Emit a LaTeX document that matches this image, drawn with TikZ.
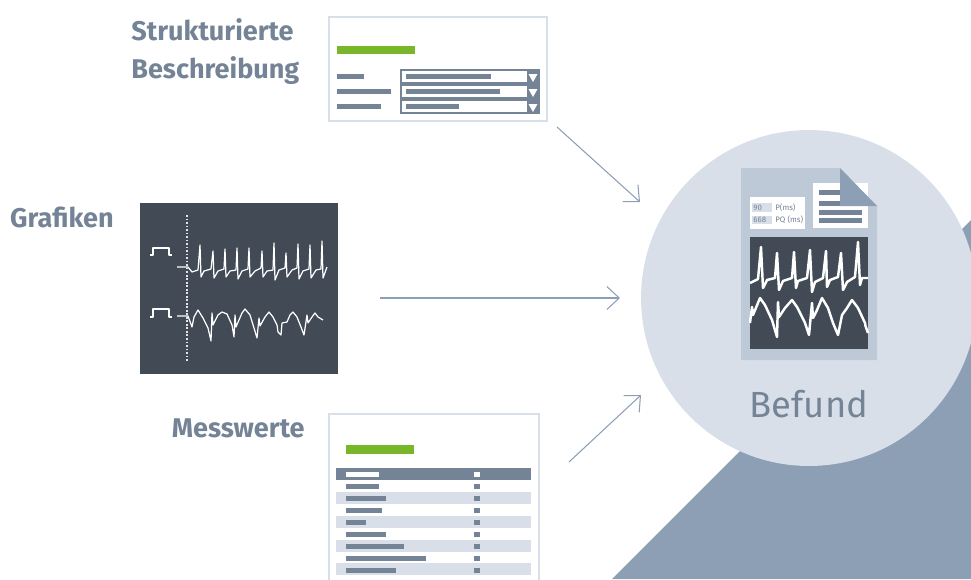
\documentclass[tikz,border=0pt]{standalone}
\usepackage{fontspec}
\setmainfont{Fira Sans}
\usetikzlibrary{arrows.meta}
\definecolor{slate}{HTML}{748496}
\definecolor{pale}{HTML}{D8DFE9}
\definecolor{mid}{HTML}{BDC9D6}
\definecolor{wedge}{HTML}{8C9FB5}
\definecolor{screen}{HTML}{414A55}
\definecolor{leaf}{HTML}{78B72A}
\tikzset{
  caption/.style={font=\fontsize{15.4}{21.5}\selectfont\bfseries,text=slate,align=left,inner sep=0pt},
  tiny/.style={font=\fontsize{4.5}{5}\selectfont,text=slate,inner sep=0pt,anchor=west},
  card/.style={draw=pale,fill=white,line width=1pt},
  link/.style={draw=wedge,line width=0.6pt,-{Straight Barb[length=7pt,width=13pt]}},
  bar/.style={fill=slate},
  trace/.style={draw=white,line width=0.7pt,line join=round}
}
\begin{document}
\begin{tikzpicture}[x=0.02cm,y=-0.02cm]
  \useasboundingbox (0,0) rectangle (971,579);
  \clip (0,0) rectangle (971,579);
  \fill[wedge] (612,579) -- (971,220) -- (971,579) -- cycle;
  \node[circle,fill=pale,minimum size=6.72cm,inner sep=0pt] (befund) at (809,298) {};
  \node[font=\fontsize{20.7}{25}\selectfont,text=slate,inner sep=0pt] (befundtext) at (809,404) {Befund};
  % captions
  \node[caption,anchor=west] (struktur) at (131,51.5) {Strukturierte\\Beschreibung};
  \node[caption,anchor=east] (grafiken) at (114,217) {Grafiken};
  \node[caption,anchor=east] (messwerte) at (305,428) {Messwerte};
  % form card
  \path[card] (329,17) rectangle (547,121);
  \fill[leaf] (337,46) rectangle (415,54);
  \fill[bar] (337,74) rectangle (364,79);
  \fill[bar] (337,89) rectangle (391,94);
  \fill[bar] (337,104) rectangle (381,109);
  \foreach \y/\w in {70/491,85/500,100/459}{
    \draw[slate,line width=0.6pt] (401,\y) rectangle (539,\y+13);
    \fill[bar] (406,\y+4) rectangle (\w,\y+9);
    \fill[bar] (527,\y) rectangle (539,\y+13);
    \fill[white] (528.5,\y+4) -- (537.5,\y+4) -- (533,\y+12) -- cycle;
  }
  % graph screen
  \fill[screen] (140,203) rectangle (338,374);
  \draw[white!85!screen,line width=0.6pt,dash pattern=on 1pt off 1pt] (187,215) -- (187,361);
  \draw[trace] (150,255) -- (153,255) -- (153,248) -- (169,248) -- (169,255) -- (172,255);
  \draw[trace] (150,317) -- (153,317) -- (153,309) -- (169,309) -- (169,317) -- (172,317);
  \draw[trace] (177,267) -- (188,267) -- (192,272) -- (198,270) -- (200,245) -- (201,277) -- (204,271) -- (211,269) -- (213,251) -- (214,278) -- (218,271) -- (224,269) -- (225,249) -- (226,277) -- (230,271) -- (236,270) -- (237,248) -- (238,279) -- (242,271) -- (248,269) -- (249,248) -- (250,277) -- (255,271) -- (261,268) -- (262,251) -- (263,277) -- (267,271) -- (273,270) -- (274,243) -- (275,280) -- (279,270) -- (285,268) -- (286,253) -- (287,277) -- (292,270) -- (297,268) -- (298,244) -- (299,279) -- (303,271) -- (309,269) -- (310,245) -- (311,278) -- (316,270) -- (321,269) -- (322,241) -- (323,278) -- (327,267);
  \draw[trace] (177,316) -- (188,316) -- (192,327) -- (194,317) -- (198,310) -- (203,318) -- (208,328) -- (211,341) -- (212,313) -- (213,325) -- (218,315) -- (222,312) -- (227,314) -- (232,325) -- (234,337) -- (235,315) -- (236,327) -- (242,313) -- (245,309) -- (250,315) -- (254,328) -- (257,338) -- (259,318) -- (260,326) -- (265,317) -- (269,312) -- (273,317) -- (277,325) -- (278,332) -- (281,335) -- (282,323) -- (287,322) -- (290,315) -- (293,312) -- (297,317) -- (301,327) -- (304,335) -- (307,315) -- (308,323) -- (312,317) -- (315,313) -- (318,317) -- (323,320);
  % measurement card
  \path[card] (329,414) rectangle (539,590);
  \fill[leaf] (346,445) rectangle (414,454);
  \fill[bar] (336,468) rectangle (531,480);
  \foreach \y in {492,516,540,563}{ \fill[pale] (336,\y) rectangle (531,\y+12); }
  \fill[white] (346,472) rectangle (379,477);
  \fill[white] (474,472) rectangle (480,477);
  \foreach \y/\w in {484/379,496/386,508/382,520/366,532/386,544/404,556/426,568/396}{
    \fill[bar] (346,\y) rectangle (\w,\y+5);
    \fill[bar] (474,\y) rectangle (480,\y+5);
  }
  % document icon
  \fill[mid] (741,168) -- (840,168) -- (877,206) -- (877,360) -- (741,360) -- cycle;
  \fill[white] (750,197) rectangle (805,229);
  \fill[pale] (752,203) rectangle (772,212);
  \fill[pale] (752,216) rectangle (772,224);
  \node[tiny] (p90) at (753,207.5) {90};
  \node[tiny] (p668) at (753,220) {668};
  \node[tiny] (pms) at (775,207.5) {P(ms)};
  \node[tiny] (pqms) at (775,220) {PQ (ms)};
  \fill[white] (813,183) rectangle (868,228);
  \foreach \y/\w in {190/840,201/840,210/862,218/862}{ \fill[bar] (819,\y) rectangle (\w,\y+5); }
  \fill[wedge] (840,168) -- (877,206) -- (840,206) -- cycle;
  \fill[screen] (750,237) rectangle (868,349);
  \draw[trace,line width=1.4pt] (750,283) -- (758,279) -- (761,247) -- (763,288) -- (767,280) -- (775,278) -- (777,253) -- (779,290) -- (783,281) -- (792,278) -- (794,252) -- (796,288) -- (798,281) -- (807,278) -- (810,250) -- (812,292) -- (815,282) -- (823,278) -- (826,251) -- (827,287) -- (830,280) -- (838,277) -- (841,253) -- (843,290) -- (847,282) -- (855,277) -- (858,242) -- (860,285) -- (862,278) -- (868,278);
  \draw[trace,line width=1.4pt] (750,323) -- (752,307) -- (753,315) -- (760,298) -- (765,305) -- (772,320) -- (777,337) -- (778,302) -- (779,317) -- (785,308) -- (792,300) -- (797,307) -- (805,323) -- (809,335) -- (812,303) -- (813,318) -- (817,310) -- (822,298) -- (828,308) -- (833,323) -- (838,335) -- (842,315) -- (847,308) -- (852,300) -- (858,308) -- (865,323) -- (865.5,326) -- (868,333);
  % links
  \coordinate (inform) at (557,127);
  \coordinate (outform) at (640,202);
  \coordinate (ingraph) at (380,298);
  \coordinate (outgraph) at (620,298);
  \coordinate (intable) at (569,462);
  \coordinate (outtable) at (641,395);
  \draw[link] (inform) -- (outform);
  \draw[link] (ingraph) -- (outgraph);
  \draw[link] (intable) -- (outtable);
\end{tikzpicture}
\end{document}
